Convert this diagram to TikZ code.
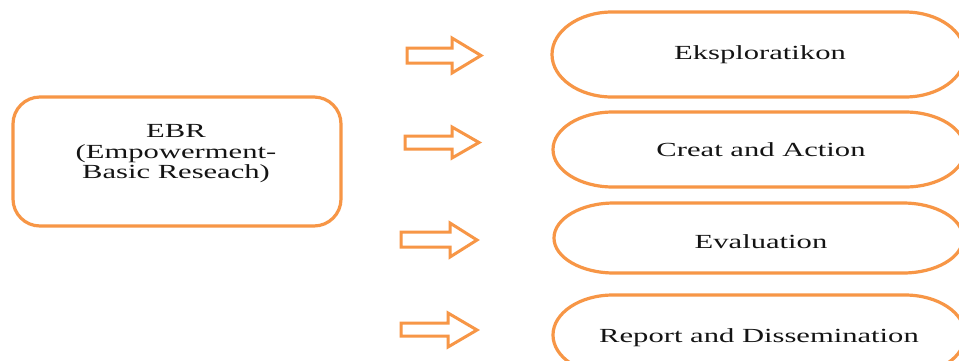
\documentclass[tikz,border=0pt]{standalone}
\usepackage{fontspec}
\setmainfont{Liberation Serif}
\usepackage{graphicx}
\definecolor{acc}{HTML}{F79646}
\newcommand\wx[1]{\scalebox{1.53}[1]{#1}}
\begin{document}
\begin{tikzpicture}[x=1pt,y=-1pt,
  outl/.style={draw=acc, line width=3.2pt},
  barrow/.style={draw=acc, line width=3pt, fill=white, line join=miter},
  lbl/.style={font=\fontsize{20}{20.5}\selectfont, inner sep=0pt, anchor=base, text=black!92}]
\useasboundingbox (0,0) rectangle (959,360);
\clip (0,0) rectangle (959,360);
\fill[white] (0,0) rectangle (959,360);

% EBR box
\draw[outl, rounded corners=27pt] (13,97) rectangle (341,226);
\node[lbl, anchor=center, align=center] (ebr) at (176,154)
  {\wx{EBR}\\\wx{(Empowerment-}\\\wx{Basic Reseach)}};

% stadium boxes
\draw[outl] (612,12) -- (905,12) arc[start angle=90,end angle=-90,x radius=60pt,y radius=42.5pt]
  -- (612,97) arc[start angle=270,end angle=90,x radius=60pt,y radius=42.5pt] -- cycle;
\draw[outl] (613,112) -- (905,112) arc[start angle=90,end angle=-90,x radius=60pt,y radius=37.5pt]
  -- (613,187) arc[start angle=270,end angle=90,x radius=60pt,y radius=37.5pt] -- cycle;
\draw[outl] (614,203) -- (903,203) arc[start angle=90,end angle=-90,x radius=60pt,y radius=35pt]
  -- (614,273) arc[start angle=270,end angle=90,x radius=60pt,y radius=35pt] -- cycle;
\draw[outl] (613,295) -- (905,295) arc[start angle=90,end angle=-90,x radius=60pt,y radius=40pt]
  -- (613,375) arc[start angle=270,end angle=90,x radius=60pt,y radius=40pt] -- cycle;

% labels
\node[lbl] (e1) at (760,59) {\wx{Eksploratikon}};
\node[lbl] (e2) at (761,156) {\wx{Creat and Action}};
\node[lbl] (e3) at (761,248) {\wx{Evaluation}};
\node[lbl] (e4) at (759,342) {\wx{Report and Dissemination}};

% block arrows
\draw[barrow] (407,48) -- (452,48) -- (452,38) -- (481,55.5) -- (452,73) -- (452,63) -- (407,63) -- cycle;
\draw[barrow] (405,136) -- (452,136) -- (452,127) -- (479,142.5) -- (452,158) -- (452,149) -- (405,149) -- cycle;
\draw[barrow] (401,232) -- (450,232) -- (450,223) -- (477,240) -- (450,257) -- (450,247) -- (401,247) -- cycle;
\draw[barrow] (401,323) -- (448,323) -- (448,313) -- (477,330) -- (448,347) -- (448,336) -- (401,336) -- cycle;
\end{tikzpicture}
\end{document}
